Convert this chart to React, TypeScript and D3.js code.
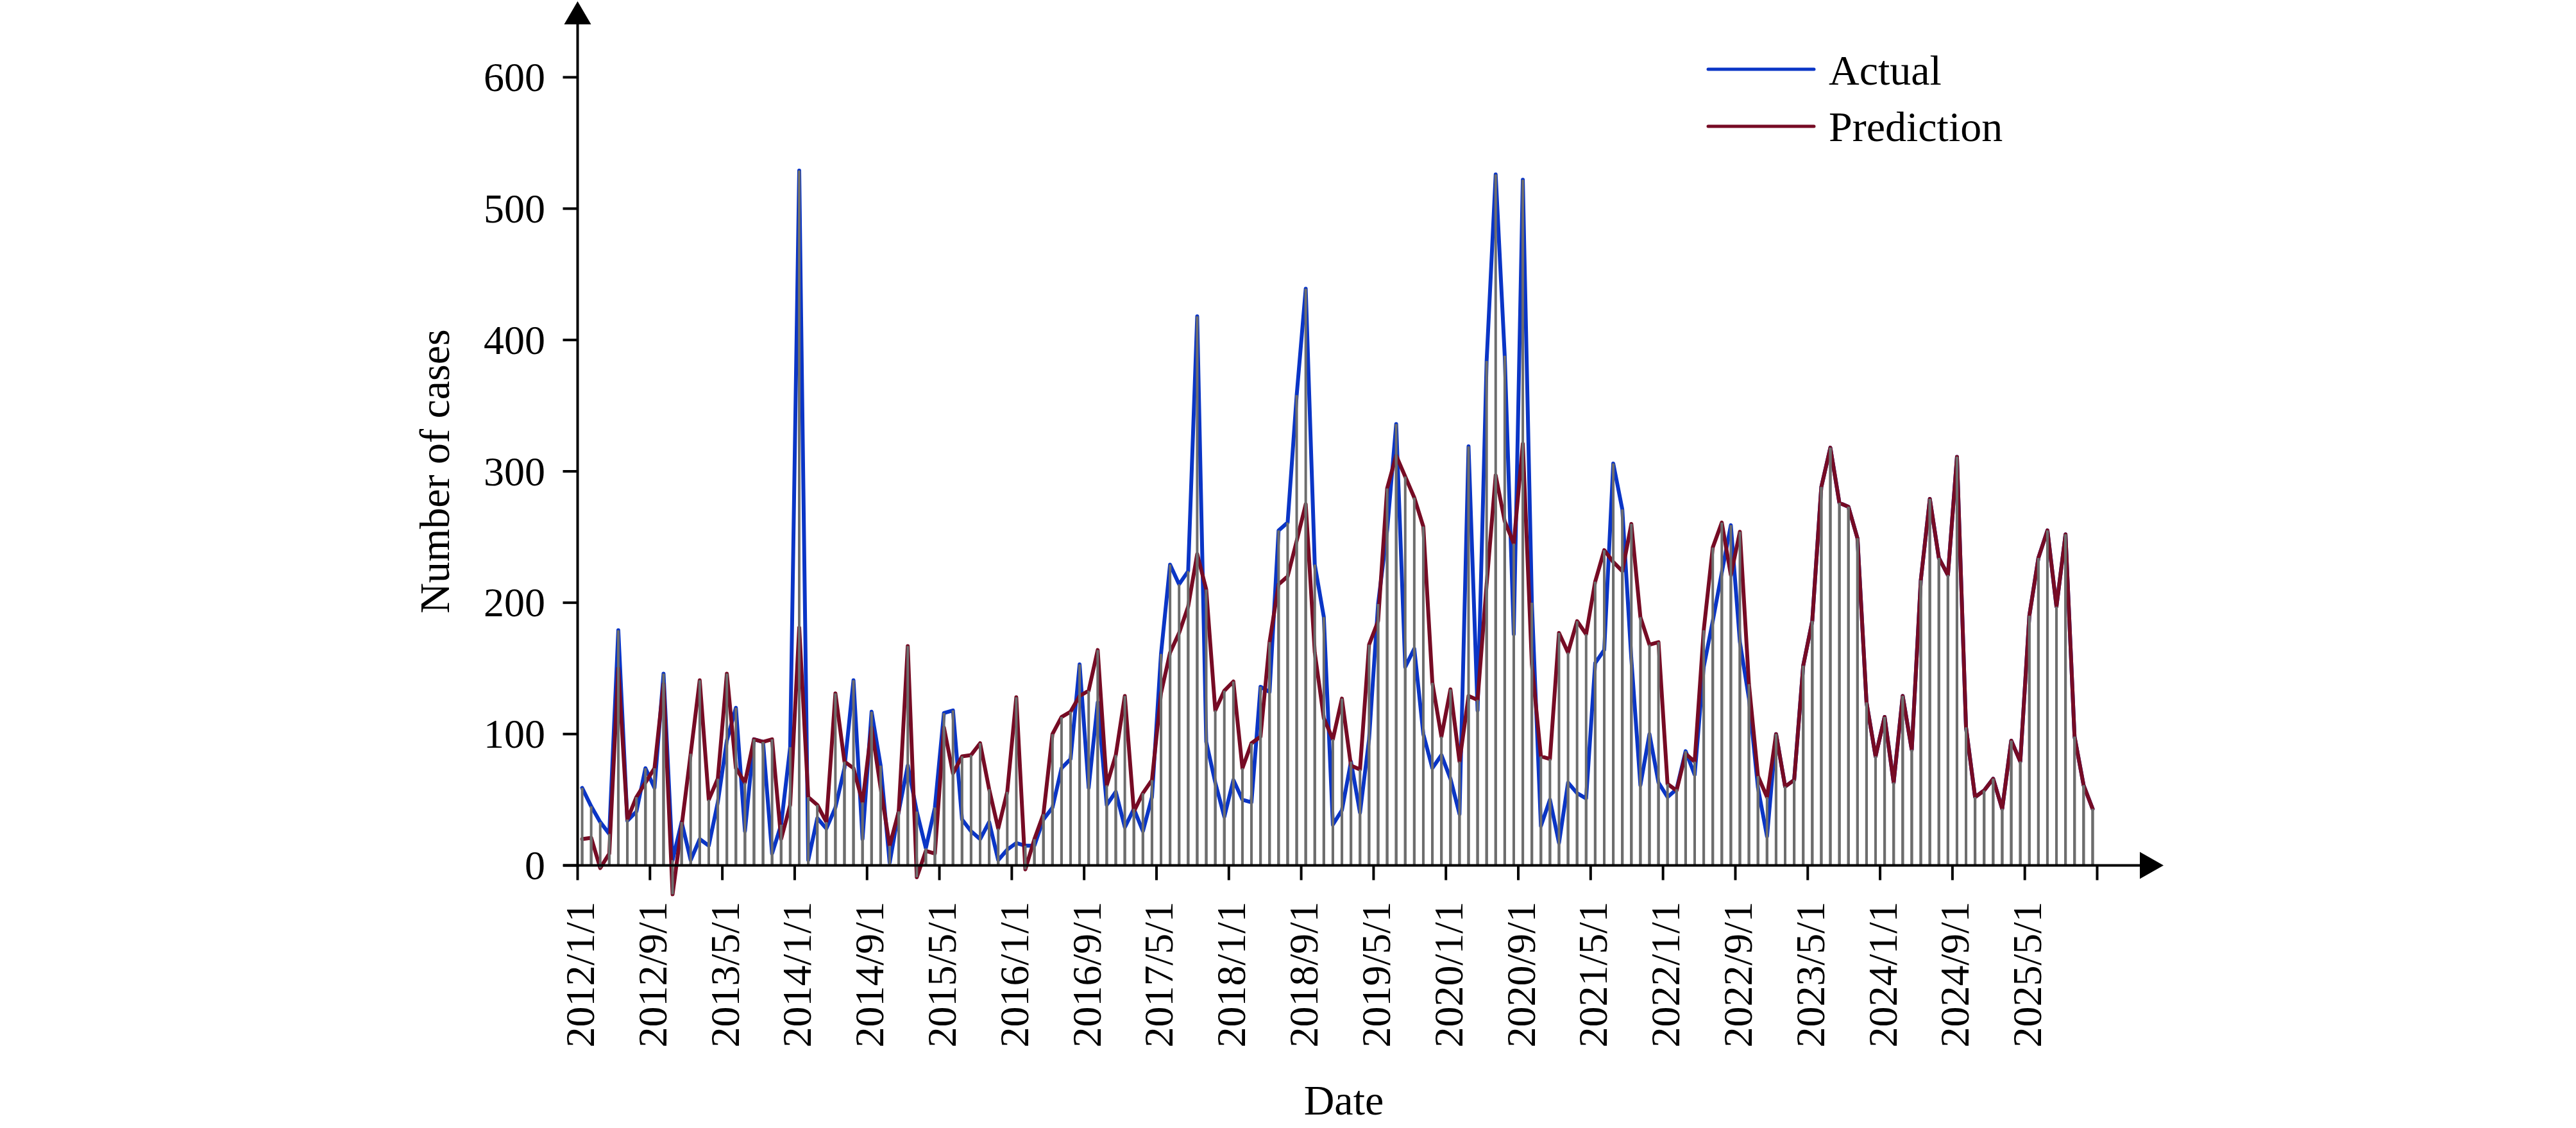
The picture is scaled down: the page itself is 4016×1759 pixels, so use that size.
import React from "react";
import * as d3 from "d3";

// Categories: monthly from 2012/1 to 2025/12
const months: string[] = d3.range(168).map((i) => `${2012 + Math.floor(i / 12)}/${(i % 12) + 1}`);

const tickLabels: string[] = [
  "2012/1/1", "2012/9/1", "2013/5/1", "2014/1/1", "2014/9/1", "2015/5/1", "2016/1/1",
  "2016/9/1", "2017/5/1", "2018/1/1", "2018/9/1", "2019/5/1", "2020/1/1", "2020/9/1",
  "2021/5/1", "2022/1/1", "2022/9/1", "2023/5/1", "2024/1/1", "2024/9/1", "2025/5/1",
];

const yTicks: number[] = [0, 100, 200, 300, 400, 500, 600];

const actual: number[] = [
  59, 45, 33, 24, 179, 34, 41, 74, 59, 146, 4, 33,
  4, 20, 15, 48, 95, 120, 26, 96, 94, 9, 31, 90,
  529, 4, 36, 28, 44, 74, 141, 20, 117, 76, 2, 41,
  76, 41, 13, 44, 116, 118, 35, 26, 20, 33, 4, 12,
  17, 15, 15, 35, 44, 74, 81, 153, 59, 124, 46, 56,
  29, 43, 26, 52, 161, 229, 214, 224, 418, 94, 63, 37,
  65, 50, 48, 136, 132, 255, 261, 358, 439, 229, 189, 31,
  42, 79, 40, 96, 199, 255, 336, 151, 165, 100, 74, 84,
  66, 39, 319, 118, 384, 526, 388, 176, 522, 200, 30, 50,
  17, 63, 55, 51, 154, 164, 306, 271, 157, 61, 100, 63,
  52, 58, 87, 69, 151, 186, 223, 259, 170, 127, 59, 22,
  100, 60, 65, 152, 186, 288, 318, 276, 273, 249, 124, 83,
  113, 63, 129, 88, 217, 279, 234, 221, 311, 105, 52, 57,
  66, 43, 95, 79, 190, 234, 255, 197, 252, 98, 61, 43,
];

const prediction: number[] = [
  20, 21, -2, 9, 150, 35, 52, 63, 74, 138, -22, 30,
  85, 141, 50, 66, 146, 74, 63, 96, 94, 96, 20, 46,
  181, 52, 46, 33, 131, 79, 74, 48, 105, 59, 15, 41,
  167, -9, 11, 9, 105, 70, 83, 84, 93, 58, 28, 56,
  128, -3, 20, 39, 100, 113, 117, 129, 133, 164, 61, 84,
  129, 41, 55, 65, 131, 162, 177, 197, 237, 210, 118, 133,
  140, 74, 93, 98, 170, 214, 220, 247, 275, 162, 112, 96,
  127, 76, 73, 168, 186, 287, 312, 296, 280, 258, 139, 98,
  134, 79, 129, 126, 214, 297, 262, 245, 321, 153, 83, 81,
  177, 162, 186, 176, 216, 240, 231, 224, 260, 189, 168, 170,
  62, 57, 85, 79, 179, 242, 261, 221, 254, 138, 68, 52,
  100, 60, 65, 152, 186, 288, 318, 276, 273, 249, 124, 83,
  113, 63, 129, 88, 217, 279, 234, 221, 311, 105, 52, 57,
  66, 43, 95, 79, 190, 234, 255, 197, 252, 98, 61, 43,
];

const BLUE = "#0a35c6";
const RED = "#760b24";
const GREY = "#6d6d6d";
const FONT = "'Liberation Serif', 'Times New Roman', serif";

export default function App() {
  const W = 4016;
  const H = 1759;
  const x = d3.scaleBand<string>().domain(months).range([900.5, 3269.5]).padding(0);
  const bw = x.bandwidth();
  const y = d3.scaleLinear().domain([0, 600]).range([1349.5, 120.5]);
  const cx = (i: number) => (x(months[i]) as number) + bw / 2;
  const axisX = 900.5;
  const axisY = y(0);

  const line = d3
    .line<number>()
    .x((_, i) => cx(i))
    .y((d) => y(d));

  const barRects = (vals: number[], key: string) =>
    vals.map((v, i) => {
      const top = y(Math.max(v, 0));
      const bot = y(Math.min(v, 0));
      return (
        <rect key={key + i} x={cx(i) - 2} y={top} width={4} height={Math.max(bot - top, 0)} fill={GREY} />
      );
    });

  const tickIdx = tickLabels.map((_, k) => k * 8);
  const endTick = x.range()[1];

  return (
    <svg
      width={W}
      height={H}
      viewBox={`0 0 ${W} ${H}`}
      style={{ position: "absolute", left: 0, top: 0, background: "#fff" }}
    >
      <rect x={0} y={0} width={W} height={H} fill="#fff" />
      {/* lines */}
      <path d={line(actual) as string} fill="none" stroke={BLUE} strokeWidth={6} strokeLinejoin="round" strokeLinecap="round" />
      <path d={line(prediction) as string} fill="none" stroke={RED} strokeWidth={6} strokeLinejoin="round" strokeLinecap="round" />
      {/* drop bars */}
      {barRects(actual, "a")}
      {barRects(prediction, "p")}

      {/* y axis */}
      <line x1={axisX} x2={axisX} y1={axisY + 2} y2={30} stroke="#000" strokeWidth={4} />
      <polygon points={`${axisX},2 ${axisX - 21},38 ${axisX + 21},38`} fill="#000" />
      {yTicks.map((t) => (
        <g key={"yt" + t}>
          <line x1={axisX - 23} x2={axisX} y1={y(t)} y2={y(t)} stroke="#000" strokeWidth={4} />
          <text x={850} y={y(t)} textAnchor="end" dominantBaseline="central" fontFamily={FONT} fontSize={64} fill="#000">
            {t}
          </text>
        </g>
      ))}
      <text
        transform={`translate(700, 735) rotate(-90)`}
        textAnchor="middle"
        fontFamily={FONT}
        fontSize={66}
        fill="#000"
      >
        Number of cases
      </text>

      {/* x axis */}
      <line x1={878} x2={3340} y1={axisY} y2={axisY} stroke="#000" strokeWidth={4} />
      <polygon points={`3373,${axisY} 3336,${axisY - 21} 3336,${axisY + 21}`} fill="#000" />
      {tickIdx.map((idx, k) => {
        const tx = x(months[idx]) as number;
        return (
          <g key={"xt" + k}>
            <line x1={tx} x2={tx} y1={axisY} y2={axisY + 23} stroke="#000" strokeWidth={4} />
            <text
              transform={`translate(${tx + 4}, 1406) rotate(-90)`}
              textAnchor="end"
              dominantBaseline="central"
              fontFamily={FONT}
              fontSize={64}
              fill="#000"
            >
              {tickLabels[k]}
            </text>
          </g>
        );
      })}
      <line x1={endTick} x2={endTick} y1={axisY} y2={axisY + 23} stroke="#000" strokeWidth={4} />
      <text x={2095} y={1738} textAnchor="middle" fontFamily={FONT} fontSize={66} fill="#000">
        Date
      </text>

      {/* legend */}
      <line x1={2663} x2={2828} y1={108} y2={108} stroke={BLUE} strokeWidth={5} strokeLinecap="round" />
      <text x={2851} y={132} fontFamily={FONT} fontSize={66} fill="#000">Actual</text>
      <line x1={2663} x2={2828} y1={197} y2={197} stroke={RED} strokeWidth={5} strokeLinecap="round" />
      <text x={2851} y={220} fontFamily={FONT} fontSize={66} fill="#000">Prediction</text>
    </svg>
  );
}
